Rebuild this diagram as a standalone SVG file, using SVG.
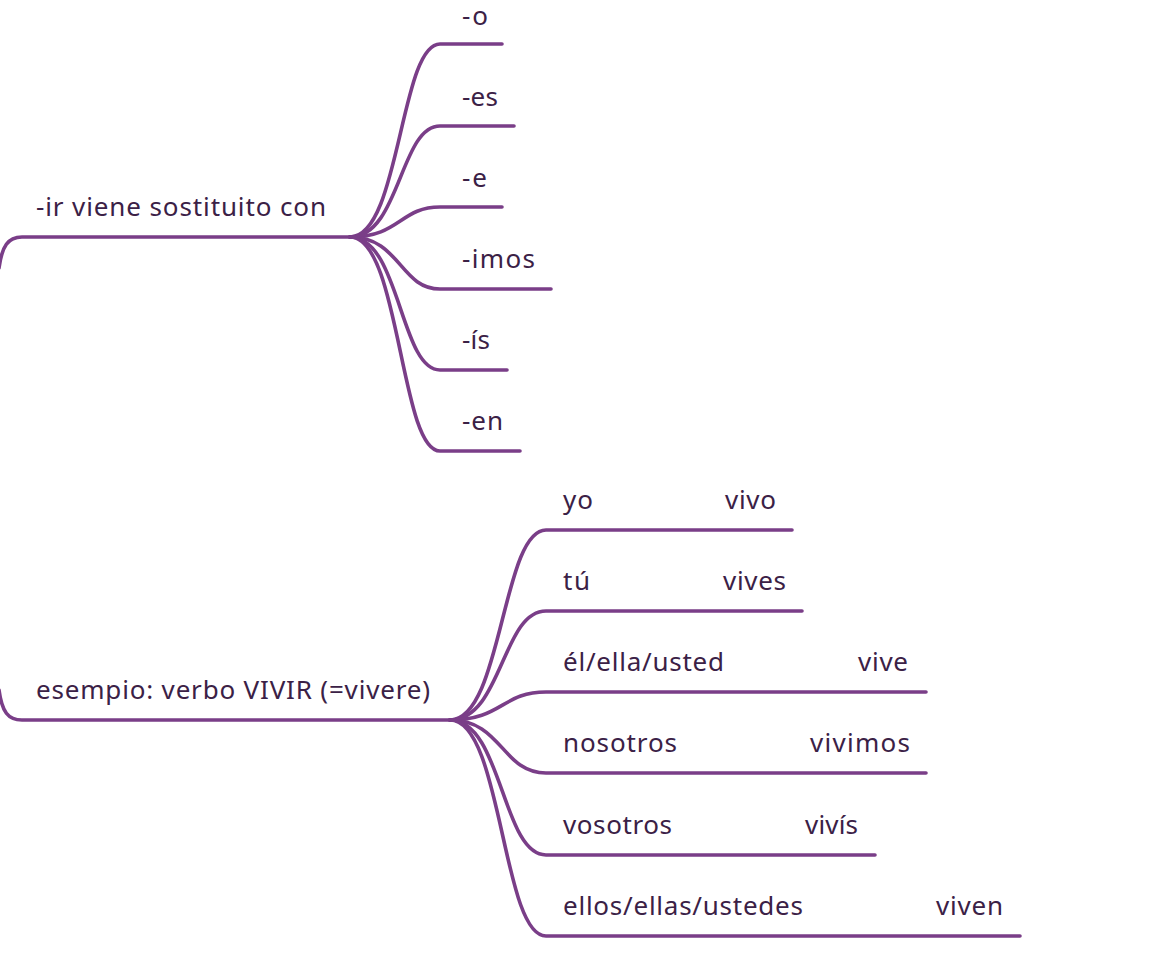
<svg xmlns="http://www.w3.org/2000/svg" width="1165" height="955" viewBox="0 0 1165 955">
<style>
.c{fill:none;stroke:#7a3e88;stroke-width:3.6;stroke-linecap:round}
.t{font-family:"Noto Sans","Open Sans","Liberation Sans",sans-serif;font-size:26px;fill:#3b2146}
</style>
<rect width="1165" height="955" fill="#fff"/>
<g id="connectors">
<path class="c" d="M-1,268 C2,246 8,237 22,237 L350,237"/>
<path class="c" d="M-1,690 C2,712 8,720 22,720 L450,720"/>
<path class="c" d="M350,237 C400,237 400,44 440,44 L502,44"/>
<path class="c" d="M350,237 C400,237 400,126 440,126 L514,126"/>
<path class="c" d="M350,237 C400,237 400,207 440,207 L502,207"/>
<path class="c" d="M350,237 C400,237 400,289 440,289 L551,289"/>
<path class="c" d="M350,237 C400,237 400,370 440,370 L507,370"/>
<path class="c" d="M350,237 C400,237 400,451 440,451 L520,451"/>
<path class="c" d="M450,720 C502,720 502,530 546,530 L792,530"/>
<path class="c" d="M450,720 C502,720 502,611 546,611 L802,611"/>
<path class="c" d="M450,720 C502,720 502,692 546,692 L926,692"/>
<path class="c" d="M450,720 C502,720 502,773 546,773 L926,773"/>
<path class="c" d="M450,720 C502,720 502,855 546,855 L875,855"/>
<path class="c" d="M450,720 C502,720 502,936 546,936 L1020,936"/>
</g>
<g id="n1"><text class="t" x="36" y="216" textLength="290">-ir viene sostituito con</text></g>
<g id="n1a"><text class="t" x="462" y="25" textLength="26">-o</text></g>
<g id="n1b"><text class="t" x="462" y="106" textLength="36">-es</text></g>
<g id="n1c"><text class="t" x="462" y="187" textLength="25">-e</text></g>
<g id="n1d"><text class="t" x="462" y="268" textLength="73">-imos</text></g>
<g id="n1e"><text class="t" x="462" y="349" textLength="28">-ís</text></g>
<g id="n1f"><text class="t" x="462" y="430" textLength="41">-en</text></g>
<g id="n2"><text class="t" x="36" y="699" textLength="394">esempio: verbo VIVIR (=vivere)</text></g>
<g id="n2a"><text class="t" x="563" y="509" textLength="30">yo</text><text class="t" x="725" y="509" textLength="51">vivo</text></g>
<g id="n2b"><text class="t" x="563" y="590" textLength="27">tú</text><text class="t" x="723" y="590" textLength="63">vives</text></g>
<g id="n2c"><text class="t" x="563" y="671" textLength="161">él/ella/usted</text><text class="t" x="858" y="671" textLength="50">vive</text></g>
<g id="n2d"><text class="t" x="563" y="752" textLength="114">nosotros</text><text class="t" x="810" y="752" textLength="100">vivimos</text></g>
<g id="n2e"><text class="t" x="563" y="834" textLength="109">vosotros</text><text class="t" x="805" y="834" textLength="53">vivís</text></g>
<g id="n2f"><text class="t" x="563" y="915" textLength="240">ellos/ellas/ustedes</text><text class="t" x="936" y="915" textLength="67">viven</text></g>
</svg>
